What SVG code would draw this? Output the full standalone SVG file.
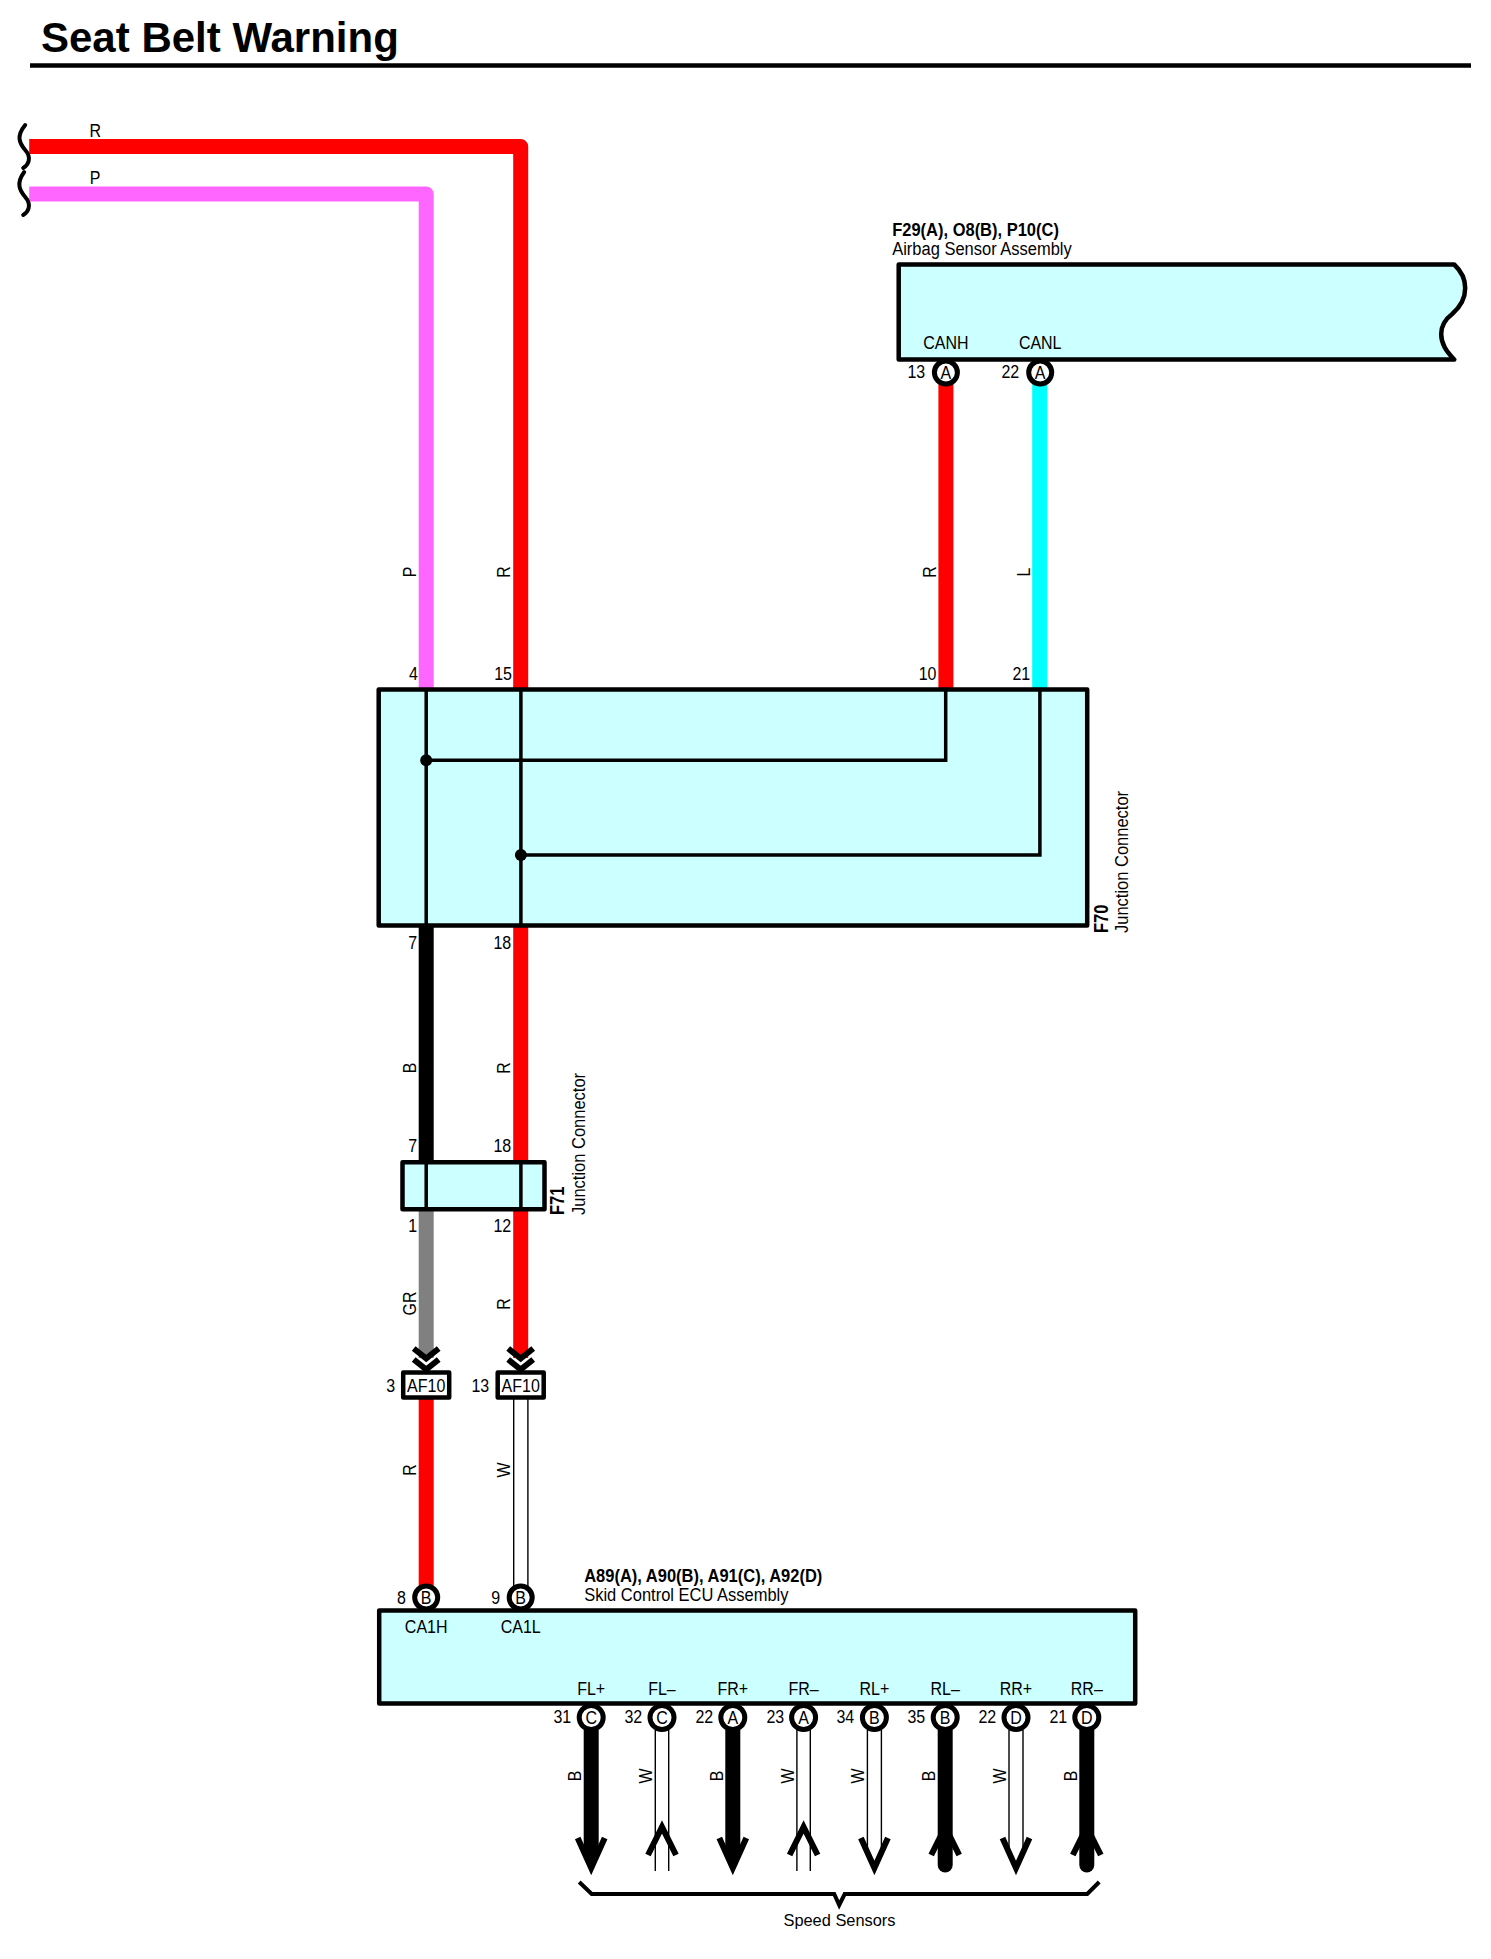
<svg xmlns="http://www.w3.org/2000/svg" xmlns:xlink="http://www.w3.org/1999/xlink" width="1491" height="1959" viewBox="0 0 1491 1959">
<style>
text{font-family:"Liberation Sans",Arial,sans-serif;fill:#000;font-size:16px}
.s{transform-box:fill-box;transform-origin:center;transform:scaleY(1.1)}
.l{font-size:16.5px}
.b{font-size:16.5px;font-weight:bold}
.m{text-anchor:middle}
.e{text-anchor:end}
.box{fill:#CCFFFF;stroke:#000;stroke-width:4.5;stroke-linejoin:round}
.af{fill:#fff;stroke:#000;stroke-width:4.5;stroke-linejoin:round}
.ring{fill:#fff;stroke:#000;stroke-width:5}
.in{fill:none;stroke:#000;stroke-width:3.5;stroke-linejoin:miter}
.w{fill:none;stroke-width:15;stroke-linejoin:round}
.th{fill:none;stroke:#000;stroke-width:1.4}
.ar{fill:none;stroke:#000;stroke-width:6;stroke-linejoin:miter}
.wave{fill:none;stroke:#000;stroke-width:4;stroke-linecap:round}
.chev{fill:none;stroke:#000;stroke-width:6;stroke-linejoin:miter}
</style>
<defs>
<g id="arBlackDown"><path d="M-7.5,0V122H7.5V0Z"/><path d="M0,138L-7.5,120H7.5Z"/><polyline class="ar" points="-13.5,108 0,138 13.5,108"/></g>
<g id="arWhiteDown"><path class="th" d="M-7,0V123M7,0V123"/><polyline class="ar" points="-13.5,108 0,138 13.5,108"/></g>
<g id="arWhiteUp"><path class="th" d="M-6.7,0V141M6.7,0V141"/><polyline class="ar" points="-14,125 0,97 14,125"/></g>
<g id="arBlackUp"><polyline class="ar" points="-14,125 0,97 14,125"/><path d="M-7.5,0V135A7.5,7.5 0 0 0 7.5,135V0Z"/></g>
<g id="chevrons"><polyline class="chev" points="-12.5,0 0,10 12.5,0"/><polyline class="chev" points="-12.5,11 0,21 12.5,11"/></g>
</defs>
<rect width="1491" height="1959" fill="#fff"/>
<g id="title">
<text x="41" y="52" style="font-size:42px;font-weight:bold">Seat Belt Warning</text>
<line x1="30" y1="65.5" x2="1471" y2="65.5" stroke="#000" stroke-width="4.5"/>
</g>
<g transform="translate(-0.8,0)">
<g id="connectors">
<polyline class="w" stroke="#FF0000" points="30,146.5 521.5,146.5 521.5,689"/>
<polyline class="w" stroke="#FF66FF" points="30,194 427,194 427,689"/>
<path class="wave" d="M26,125C17,136 20,143 26,150C33,158 29,165 24,168"/>
<path class="wave" d="M25,172C17,183 20,190 26,197C33,205 29,212 24,215"/>
<line class="w" stroke="#FF0000" x1="946.7" y1="380" x2="946.7" y2="689"/>
<line class="w" stroke="#00FFFF" x1="1040.5" y1="380" x2="1040.5" y2="689"/>
<line class="w" stroke="#000000" x1="427" y1="925" x2="427" y2="1162"/>
<line class="w" stroke="#FF0000" x1="521.5" y1="925" x2="521.5" y2="1162"/>
<line class="w" stroke="#808080" x1="427" y1="1209" x2="427" y2="1358"/>
<line class="w" stroke="#FF0000" x1="521.5" y1="1209" x2="521.5" y2="1358"/>
<use xlink:href="#chevrons" href="#chevrons" x="427" y="1348.5"/>
<use xlink:href="#chevrons" href="#chevrons" x="521.5" y="1348.5"/>
<line class="w" stroke="#FF0000" x1="427" y1="1397" x2="427" y2="1590"/>
<path class="th" d="M514.5,1397V1590M528.7,1397V1590"/>
<use xlink:href="#arBlackDown" href="#arBlackDown" x="592" y="1730"/>
<use xlink:href="#arWhiteUp" href="#arWhiteUp" x="662.8" y="1730"/>
<use xlink:href="#arBlackDown" href="#arBlackDown" x="733.6" y="1730"/>
<use xlink:href="#arWhiteUp" href="#arWhiteUp" x="804.4" y="1730"/>
<use xlink:href="#arWhiteDown" href="#arWhiteDown" x="875.2" y="1730"/>
<use xlink:href="#arBlackUp" href="#arBlackUp" x="946" y="1730"/>
<use xlink:href="#arWhiteDown" href="#arWhiteDown" x="1016.8" y="1730"/>
<use xlink:href="#arBlackUp" href="#arBlackUp" x="1087.6" y="1730"/>
<polyline points="580,1882 592.5,1894 835,1894 840,1905 845.5,1894 1088,1894 1100,1882" fill="none" stroke="#000" stroke-width="4"/>
<text class="m" x="840.3" y="1926" style="font-size:16.4px">Speed Sensors</text>
<g>
<text class="s m" x="96" y="136">R</text>
<text class="s m" x="96" y="183">P</text>
<text class="m" transform="translate(417,572) rotate(-90) scale(1,1.1)">P</text>
<text class="m" transform="translate(511,572) rotate(-90) scale(1,1.1)">R</text>
<text class="m" transform="translate(936.7,572) rotate(-90) scale(1,1.1)">R</text>
<text class="m" transform="translate(1030.5,572) rotate(-90) scale(1,1.1)">L</text>
<text class="m" transform="translate(417,1068) rotate(-90) scale(1,1.1)">B</text>
<text class="m" transform="translate(511,1068) rotate(-90) scale(1,1.1)">R</text>
<text class="m" transform="translate(417,1303.5) rotate(-90) scale(1,1.1)">GR</text>
<text class="m" transform="translate(511,1304) rotate(-90) scale(1,1.1)">R</text>
<text class="m" transform="translate(417,1470) rotate(-90) scale(1,1.1)">R</text>
<text class="m" transform="translate(511,1470) rotate(-90) scale(1,1.1)">W</text>
<text class="m" transform="translate(582,1776) rotate(-90) scale(1,1.1)">B</text>
<text class="m" transform="translate(653,1776) rotate(-90) scale(1,1.1)">W</text>
<text class="m" transform="translate(724,1776) rotate(-90) scale(1,1.1)">B</text>
<text class="m" transform="translate(795,1776) rotate(-90) scale(1,1.1)">W</text>
<text class="m" transform="translate(865,1776) rotate(-90) scale(1,1.1)">W</text>
<text class="m" transform="translate(936,1776) rotate(-90) scale(1,1.1)">B</text>
<text class="m" transform="translate(1007,1776) rotate(-90) scale(1,1.1)">W</text>
<text class="m" transform="translate(1078,1776) rotate(-90) scale(1,1.1)">B</text>
</g>
</g>
<g id="airbag-sensor">
<text class="b s" x="893" y="235">F29(A), O8(B), P10(C)</text>
<text class="l s" x="893" y="254">Airbag Sensor Assembly</text>
<path class="box" d="M899.5,264.5H1455C1463,272 1466,280 1466,288C1466,299 1461,307 1453,314C1445,320 1442,327 1442,334C1442,344 1447,351 1455,359.5H899.5Z"/>
<text class="s m" x="946.7" y="348">CANH</text>
<text class="s m" x="1041" y="348">CANL</text>
<circle class="ring" cx="946.7" cy="372.5" r="11.5"/>
<circle class="ring" cx="1041" cy="372.5" r="11.5"/>
<text class="s m" x="946.7" y="378">A</text>
<text class="s m" x="1041" y="378">A</text>
<text class="s e" x="926" y="377">13</text>
<text class="s e" x="1020" y="377">22</text>
</g>
<g id="f70">
<rect class="box" x="379.5" y="689.5" width="708.5" height="236"/>
<path class="in" d="M427,689.5V925.5M521.7,689.5V925.5M427,760.3H946.5V689.5M521.7,855H1040.7V689.5"/>
<circle cx="427" cy="760.3" r="6"/>
<circle cx="521.7" cy="855" r="6"/>
<text class="s e" x="418.8" y="679">4</text>
<text class="s e" x="512.8" y="679">15</text>
<text class="s e" x="937.3" y="679">10</text>
<text class="s e" x="1031" y="679">21</text>
<text class="s e" x="418" y="948">7</text>
<text class="s e" x="512" y="948">18</text>
<text class="b" transform="translate(1109,933) rotate(-90) scale(1,1.2)">F70</text>
<text class="l" transform="translate(1129,933) rotate(-90) scale(1,1.1)">Junction Connector</text>
</g>
<g id="f71">
<rect class="box" x="403.3" y="1162.3" width="142" height="47"/>
<path class="in" d="M427,1162.3V1209.3M521.7,1162.3V1209.3"/>
<text class="s e" x="418" y="1151.7">7</text>
<text class="s e" x="512" y="1151.7">18</text>
<text class="s e" x="418" y="1231.7">1</text>
<text class="s e" x="512" y="1231.7">12</text>
<text class="b" transform="translate(565,1215) rotate(-90) scale(1,1.2)">F71</text>
<text class="l" transform="translate(585.7,1215) rotate(-90) scale(1,1.1)">Junction Connector</text>
</g>
<g id="af10-3">
<rect class="af" x="404" y="1372.5" width="46" height="25"/>
<text class="s m" x="427" y="1391.5">AF10</text>
<text class="s e" x="396" y="1391.5">3</text>
</g>
<g id="af10-13">
<rect class="af" x="498.5" y="1372.5" width="46" height="25"/>
<text class="s m" x="521.5" y="1391.5">AF10</text>
<text class="s e" x="490" y="1391.5">13</text>
</g>
<g id="skid-ecu">
<text class="b s" x="585" y="1581">A89(A), A90(B), A91(C), A92(D)</text>
<text class="l s" x="585" y="1600">Skid Control ECU Assembly</text>
<rect class="box" x="380" y="1610.5" width="756" height="93"/>
<circle class="ring" cx="427" cy="1597.5" r="11.5"/>
<circle class="ring" cx="521.5" cy="1597.5" r="11.5"/>
<text class="s m" x="427" y="1603">B</text>
<text class="s m" x="521.5" y="1603">B</text>
<text class="s e" x="406.7" y="1603">8</text>
<text class="s e" x="501" y="1603">9</text>
<text class="s m" x="427" y="1632">CA1H</text>
<text class="s m" x="521.5" y="1632">CA1L</text>
<text class="s m" x="592" y="1694">FL+</text>
<text class="s m" x="662.8" y="1694">FL–</text>
<text class="s m" x="733.6" y="1694">FR+</text>
<text class="s m" x="804.4" y="1694">FR–</text>
<text class="s m" x="875.2" y="1694">RL+</text>
<text class="s m" x="946" y="1694">RL–</text>
<text class="s m" x="1016.8" y="1694">RR+</text>
<text class="s m" x="1087.6" y="1694">RR–</text>
<g class="ring">
<circle cx="592" cy="1717.5" r="12"/><circle cx="662.8" cy="1717.5" r="12"/><circle cx="733.6" cy="1717.5" r="12"/><circle cx="804.4" cy="1717.5" r="12"/><circle cx="875.2" cy="1717.5" r="12"/><circle cx="946" cy="1717.5" r="12"/><circle cx="1016.8" cy="1717.5" r="12"/><circle cx="1087.6" cy="1717.5" r="12"/>
</g>
<text class="s m" x="592" y="1723">C</text>
<text class="s m" x="662.8" y="1723">C</text>
<text class="s m" x="733.6" y="1723">A</text>
<text class="s m" x="804.4" y="1723">A</text>
<text class="s m" x="875.2" y="1723">B</text>
<text class="s m" x="946" y="1723">B</text>
<text class="s m" x="1016.8" y="1723">D</text>
<text class="s m" x="1087.6" y="1723">D</text>
<text class="s e" x="572" y="1722">31</text>
<text class="s e" x="643" y="1722">32</text>
<text class="s e" x="714" y="1722">22</text>
<text class="s e" x="785" y="1722">23</text>
<text class="s e" x="855" y="1722">34</text>
<text class="s e" x="926" y="1722">35</text>
<text class="s e" x="997" y="1722">22</text>
<text class="s e" x="1068" y="1722">21</text>
</g>
</g>
</svg>
